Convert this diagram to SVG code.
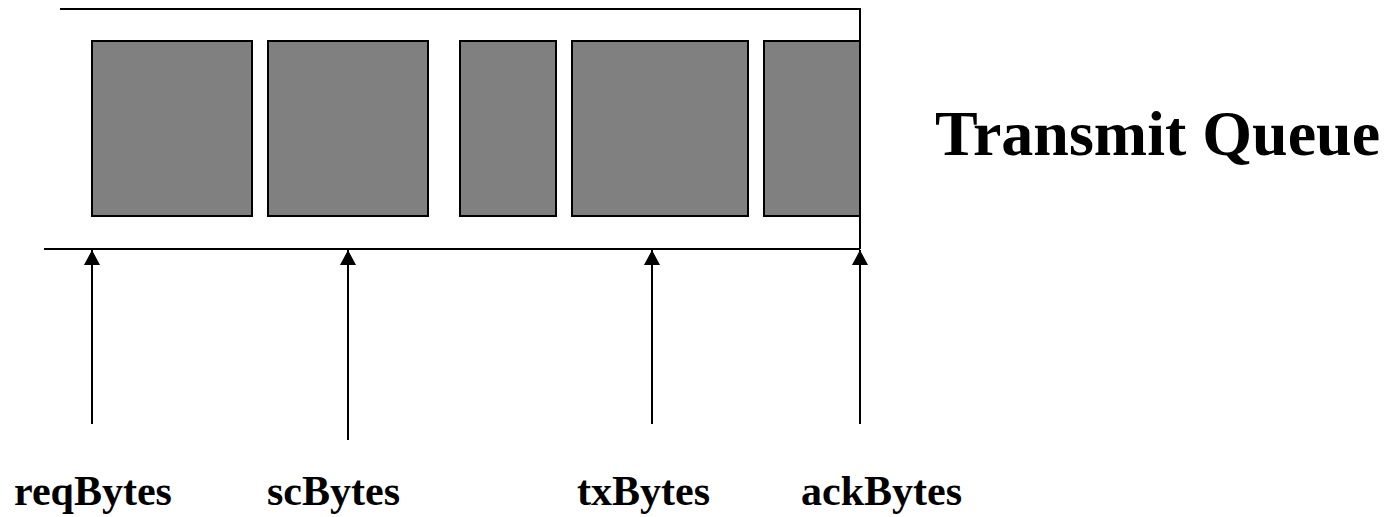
<svg xmlns="http://www.w3.org/2000/svg" width="1397" height="517" viewBox="0 0 1397 517">
  <style>
    .slot { fill: #808080; stroke: #000; stroke-width: 2; }
    .rail { stroke: #000; stroke-width: 2; fill: none; }
    .ptr { stroke: #000; stroke-width: 2; fill: none; marker-end: url(#head); }
    .lbl { font-family: "Liberation Serif", "Times New Roman", serif; font-weight: bold; fill: #000; }
  </style>
  <defs>
    <!-- upward-pointing head, tip on the line end -->
    <marker id="head" viewBox="0 0 16 15" refX="8" refY="0" markerWidth="16" markerHeight="15" markerUnits="userSpaceOnUse" orient="0">
      <path d="M0,15 L8,0 L16,15 Z" fill="#000"/>
    </marker>
  </defs>
  <rect width="1397" height="517" fill="#fff"/>

  <!-- queue outline -->
  <g id="queue">
    <path class="rail" d="M60,9 H860 V249"/>
    <path class="rail" d="M44,249 H860"/>
  </g>

  <!-- queued segments -->
  <g id="seg1"><rect class="slot" x="92" y="41" width="160" height="175"/></g>
  <g id="seg2"><rect class="slot" x="268" y="41" width="160" height="175"/></g>
  <g id="seg3"><rect class="slot" x="460" y="41" width="96" height="175"/></g>
  <g id="seg4"><rect class="slot" x="572" y="41" width="176" height="175"/></g>
  <g id="seg5"><rect class="slot" x="764" y="41" width="96" height="175"/></g>

  <g id="title">
    <text class="lbl" x="935" y="155" font-size="64">Transmit Queue</text>
  </g>

  <!-- pointer arrows -->
  <g id="connectors">
    <line class="ptr" x1="92" y1="424" x2="92" y2="250"/>
    <line class="ptr" x1="348" y1="440" x2="348" y2="250"/>
    <line class="ptr" x1="652" y1="424" x2="652" y2="250"/>
    <line class="ptr" x1="860" y1="424" x2="860" y2="250"/>
  </g>

  <g id="reqBytes"><text class="lbl" x="14" y="505" font-size="42">reqBytes</text></g>
  <g id="scBytes"><text class="lbl" x="267" y="505" font-size="42">scBytes</text></g>
  <g id="txBytes"><text class="lbl" x="577" y="505" font-size="42">txBytes</text></g>
  <g id="ackBytes"><text class="lbl" x="801" y="505" font-size="42">ackBytes</text></g>
</svg>
